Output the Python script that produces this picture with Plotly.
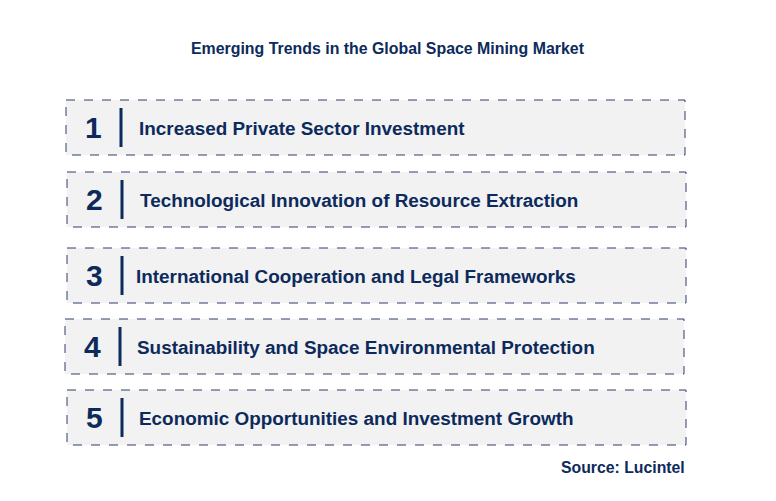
import plotly.graph_objects as go

title = "Emerging Trends in the Global Space Mining Market"
numbers = ["1", "2", "3", "4", "5"]
trends = [
    "Increased Private Sector Investment",
    "Technological Innovation of Resource Extraction",
    "International Cooperation and Legal Frameworks",
    "Sustainability and Space Environmental Protection",
    "Economic Opportunities and Investment Growth",
]
source = "Source: Lucintel"

# layout geometry (pixels, compensating 8px page margin)
off = 8
box_x0 = [66, 67, 67, 65, 67]
box_top = [100, 172, 248, 319, 390]
text_dx = [71, 71, 67, 70, 70]
box_w, box_h = 619, 55
navy = "#0d2a5c"

fig = go.Figure()
shapes = []
annotations = []
for i in range(len(trends)):
    x0, y0 = box_x0[i] - off, box_top[i] - off
    shapes.append(dict(type="rect", x0=x0, x1=x0 + box_w, y0=y0, y1=y0 + box_h,
                       fillcolor="#f2f2f2", line=dict(color="#2c3f66", width=1, dash="dash"),
                       layer="below"))
    shapes.append(dict(type="line", x0=x0 + 55, x1=x0 + 55, y0=y0 + 8, y1=y0 + box_h - 8,
                       line=dict(color=navy, width=3)))
    annotations.append(dict(x=x0 + 27, y=y0 + box_h / 2, text="<b>" + numbers[i] + "</b>",
                            showarrow=False,
                            font=dict(size=30, color=navy, family="Liberation Sans"),
                            xanchor="center", yanchor="middle"))
    annotations.append(dict(x=x0 + text_dx[i], y=y0 + box_h / 2 + 1, text="<b>" + trends[i] + "</b>",
                            showarrow=False,
                            font=dict(size=18.9, color=navy, family="Liberation Sans"),
                            xanchor="left", yanchor="middle"))
annotations.append(dict(x=388 - off, y=48 - off, text="<b>" + title + "</b>", showarrow=False,
                        font=dict(size=15.9, color=navy, family="Liberation Sans"),
                        xanchor="center", yanchor="middle"))
annotations.append(dict(x=687 - off, y=467 - off, text="<b>" + source + "</b>", showarrow=False,
                        font=dict(size=15.8, color=navy, family="Liberation Sans"),
                        xanchor="right", yanchor="middle"))

fig.update_layout(
    width=776, height=501, margin=dict(l=0, r=0, t=0, b=0),
    paper_bgcolor="white", plot_bgcolor="white",
    xaxis=dict(range=[0, 776], visible=False, fixedrange=True),
    yaxis=dict(range=[501, 0], visible=False, fixedrange=True),
    shapes=shapes, annotations=annotations, showlegend=False,
)
fig.write_html("out.html")
